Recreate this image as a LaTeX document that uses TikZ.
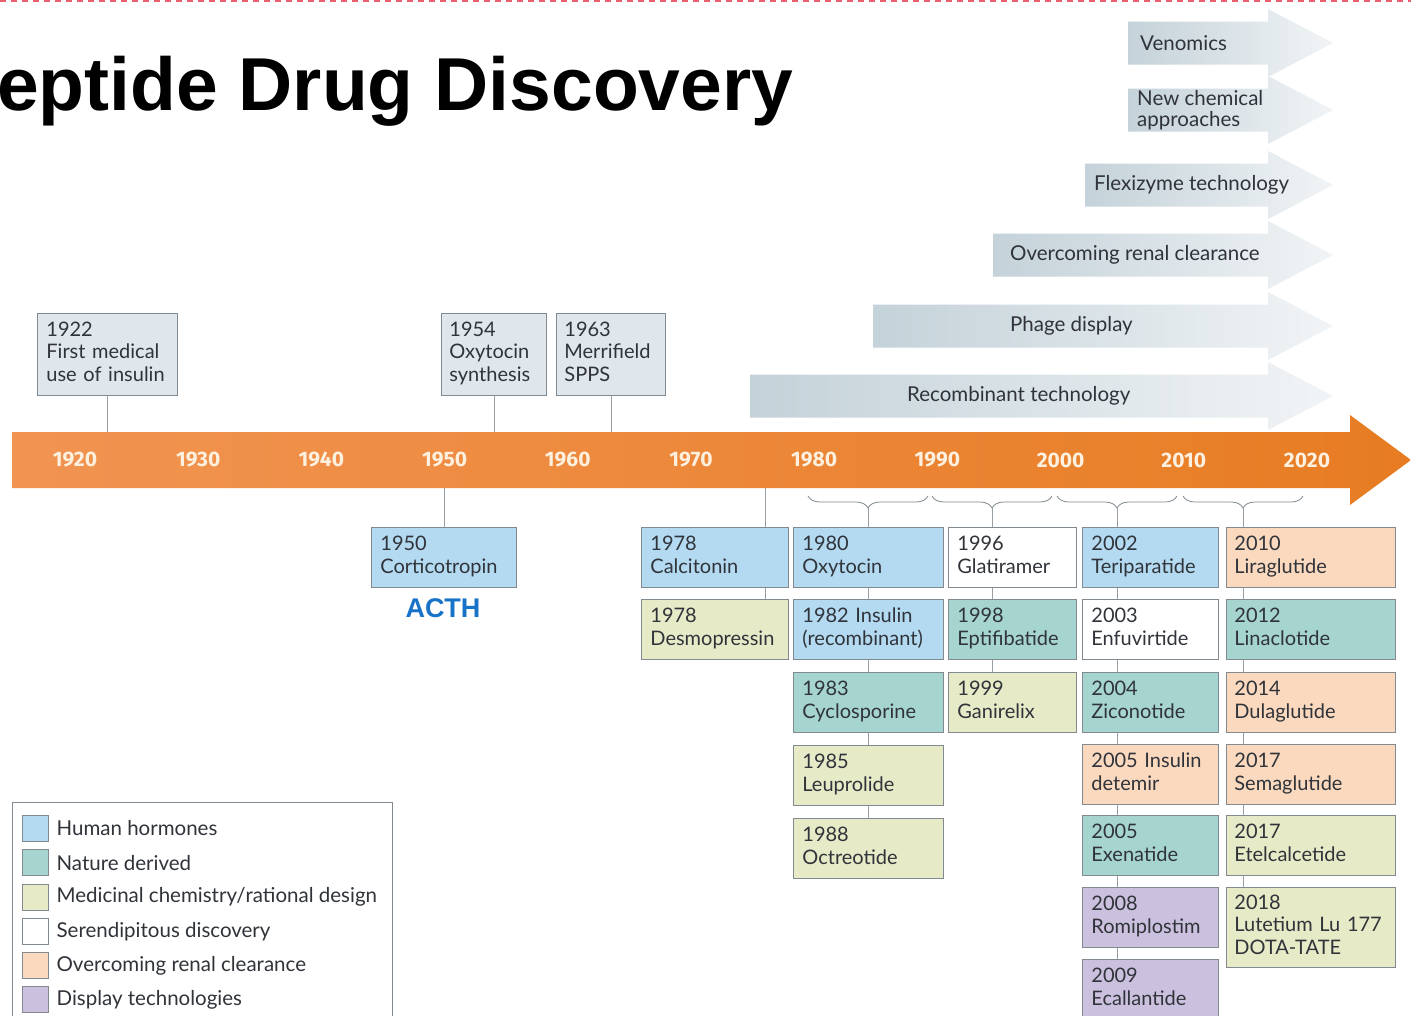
\documentclass[tikz,border=0pt]{standalone}
\usepackage{fontspec}
\setmainfont{Lato}
\newfontfamily\arialfont{Liberation Sans}
\newfontfamily\yrfont{Fira Sans}
\usetikzlibrary{positioning,decorations.pathreplacing}
\definecolor{hormone}{RGB}{180,218,242}
\definecolor{nature}{RGB}{166,212,206}
\definecolor{medchem}{RGB}{231,234,199}
\definecolor{renal}{RGB}{250,217,191}
\definecolor{display}{RGB}{203,193,222}
\definecolor{early}{RGB}{223,231,236}
\definecolor{boxgray}{RGB}{128,138,144}
\definecolor{txtgray}{RGB}{48,52,58}
\definecolor{barL}{RGB}{241,148,82}
\definecolor{barR}{RGB}{231,124,34}
\definecolor{techL}{RGB}{196,210,217}
\definecolor{techR}{RGB}{241,244,246}
\definecolor{yrtxt}{RGB}{253,240,222}
\definecolor{acthblue}{RGB}{22,115,200}
\definecolor{dashred}{RGB}{232,96,110}
\tikzset{
  evt/.style={draw=boxgray, line width=0.8pt, anchor=north west, text width=#1,
    minimum height=60pt, inner xsep=9pt, inner ysep=0pt, align=left,
    text=txtgray, font=\fontsize{20}{22.5}\selectfont,
    execute at begin node=\strut, execute at end node=\strut},
  conn/.style={draw=boxgray!80, line width=0.8pt},
  brace/.style={draw=boxgray, line width=0.8pt,
    decorate, decoration={brace, mirror, amplitude=12pt}},
  techlbl/.style={anchor=west, inner sep=0pt, align=left, text=txtgray,
    font=\fontsize{20.5}{20.5}\selectfont},
  yearlbl/.style={text=yrtxt, font=\yrfont\bfseries\fontsize{21}{21}\selectfont},
  key/.style={draw=boxgray, line width=0.8pt, minimum size=26pt, inner sep=0pt},
  keytxt/.style={inner sep=0pt, text=txtgray, font=\fontsize{20.5}{22}\selectfont}
}
\begin{document}
\begin{tikzpicture}[x=1pt,y=-1pt]
\clip (0,0) rectangle (1411,1015);
\fill[white] (0,0) rectangle (1411,1015);
\draw[dashred, line width=1.5pt, dash pattern=on 6pt off 5pt] (0,1) -- (1411,1);
\node[anchor=base west, inner sep=0pt, font=\arialfont\bfseries\fontsize{75}{80}\selectfont] (title) at (-3,110) {eptide Drug Discovery};

\foreach \x/\y/\tx/\nm/\lbl in {1128/43/1140/venom/Venomics, 1128/110/1137/newchem/New chemical\\approaches,
  1085/185/1094/flexi/Flexizyme technology, 993/255/1010/renalclr/Overcoming renal clearance,
  873/326/1010/phage/Phage display, 750/396/907/recomb/Recombinant technology}
{
\shade[left color=techL, right color=techR] (\x,\y-21.5) -- (1268,\y-21.5) -- (1268,\y-34) -- (1333,\y) -- (1268,\y+34) -- (1268,\y+21.5) -- (\x,\y+21.5) -- cycle;
\node[techlbl] (\nm) at (\tx,\y) {\lbl};
}

\shade[left color=barL, right color=barR] (12,432) -- (1350,432) -- (1350,415) -- (1411,460) -- (1350,505) -- (1350,488) -- (12,488) -- cycle;
\coordinate (bartop) at (0,432);
\coordinate (barbot) at (0,488);
\foreach \yr [count=\i from 0] in {1920,1930,...,2020}
  \node[yearlbl] (yr\yr) at ({75+\i*123.2},460) {\yr};

\node[evt=122pt, fill=early, minimum height=82pt] (ins22) at (37,313) {1922\\First medical\\use of insulin};
\node[evt=89pt, fill=early, minimum height=82pt, inner xsep=8pt] (oxy54) at (441,313) {1954\\Oxytocin\\synthesis};
\node[evt=93pt, fill=early, minimum height=82pt, inner xsep=8pt] (spps63) at (556,313) {1963\\Merrifield\\SPPS};
\foreach \b in {ins22,oxy54,spps63}
  \draw[conn] (\b.south) -- (\b.south |- bartop);

\node[evt=127pt, fill=hormone] (cort50) at (371,527) {1950\\Corticotropin};
\node[text=acthblue, font=\arialfont\bfseries\fontsize{27}{27}\selectfont] (acth) at (443,608) {ACTH};
\draw[conn] (cort50.north) -- (cort50.north |- barbot);

\node[evt=129pt, fill=hormone] (calc78) at (641,527) {1978\\Calcitonin};
\node[evt=129pt, fill=medchem] (desmo78) at (641,599) {1978\\Desmopressin};

\node[evt=132pt, fill=hormone] (oxy80) at (793,527) {1980\\Oxytocin};
\node[evt=132pt, fill=hormone] (ins82) at (793,599) {1982 Insulin\\(recombinant)};
\node[evt=132pt, fill=nature] (cyclo83) at (793,672) {1983\\Cyclosporine};
\node[evt=132pt, fill=medchem] (leup85) at (793,745) {1985\\Leuprolide};
\node[evt=132pt, fill=medchem] (octr88) at (793,818) {1988\\Octreotide};

\node[evt=110pt, fill=white] (glat96) at (948,527) {1996\\Glatiramer};
\node[evt=110pt, fill=nature] (epti98) at (948,599) {1998\\Eptifibatide};
\node[evt=110pt, fill=medchem] (gani99) at (948,672) {1999\\Ganirelix};

\node[evt=118pt, fill=hormone] (teri02) at (1082,527) {2002\\Teriparatide};
\node[evt=118pt, fill=white] (enfu03) at (1082,599) {2003\\Enfuvirtide};
\node[evt=118pt, fill=nature] (zico04) at (1082,672) {2004\\Ziconotide};
\node[evt=118pt, fill=renal] (det05) at (1082,744) {2005 Insulin\\detemir};
\node[evt=118pt, fill=nature] (exen05) at (1082,815) {2005\\Exenatide};
\node[evt=118pt, fill=display] (romi08) at (1082,887) {2008\\Romiplostim};
\node[evt=118pt, fill=display] (ecal09) at (1082,959) {2009\\Ecallantide};

\node[evt=153pt, fill=renal, inner xsep=8pt] (lira10) at (1226,527) {2010\\Liraglutide};
\node[evt=153pt, fill=nature, inner xsep=8pt] (lina12) at (1226,599) {2012\\Linaclotide};
\node[evt=153pt, fill=renal, inner xsep=8pt] (dula14) at (1226,672) {2014\\Dulaglutide};
\node[evt=153pt, fill=renal, inner xsep=8pt] (sema17) at (1226,744) {2017\\Semaglutide};
\node[evt=153pt, fill=medchem, inner xsep=8pt] (etel17) at (1226,815) {2017\\Etelcalcetide};
\node[evt=153pt, fill=medchem, inner xsep=8pt, minimum height=80pt] (lute18) at (1226,887) {2018\\Lutetium Lu 177\\DOTA-TATE};

\coordinate (k78) at (765,488);
\coordinate (k80) at (868,508);
\coordinate (k90) at (992,508);
\coordinate (k00) at (1117,508);
\coordinate (k10) at (1243,508);
\draw[brace] (808,496) -- (928,496);
\draw[brace] (932,496) -- (1052,496);
\draw[brace] (1057,496) -- (1177,496);
\draw[brace] (1183,496) -- (1303,496);

\foreach \a/\k in {calc78/k78, oxy80/k80, glat96/k90, teri02/k00, lira10/k10}
  \draw[conn] (\k) -- (\a.north -| \k);
\foreach \a/\b/\k in {calc78/desmo78/k78, oxy80/ins82/k80, ins82/cyclo83/k80, cyclo83/leup85/k80, leup85/octr88/k80,
  glat96/epti98/k90, epti98/gani99/k90,
  teri02/enfu03/k00, enfu03/zico04/k00, zico04/det05/k00, det05/exen05/k00, exen05/romi08/k00, romi08/ecal09/k00,
  lira10/lina12/k10, lina12/dula14/k10, dula14/sema17/k10, sema17/etel17/k10, etel17/lute18/k10}
  \draw[conn] (\a.south -| \k) -- (\b.north -| \k);

\draw[boxgray, line width=0.8pt] (12,1020) |- (392,802) -- (392,1020);
\foreach \c/\t [count=\i] in {hormone/Human hormones, nature/Nature derived, medchem/Medicinal chemistry\slash rational design,
  white/Serendipitous discovery, renal/Overcoming renal clearance, display/Display technologies}
{
\node[key, fill=\c] (key\i) at (35,794+\i*34.3) {};
\node[keytxt, right=8pt of key\i] (lg\i) {\t};
}
\end{tikzpicture}
\end{document}
